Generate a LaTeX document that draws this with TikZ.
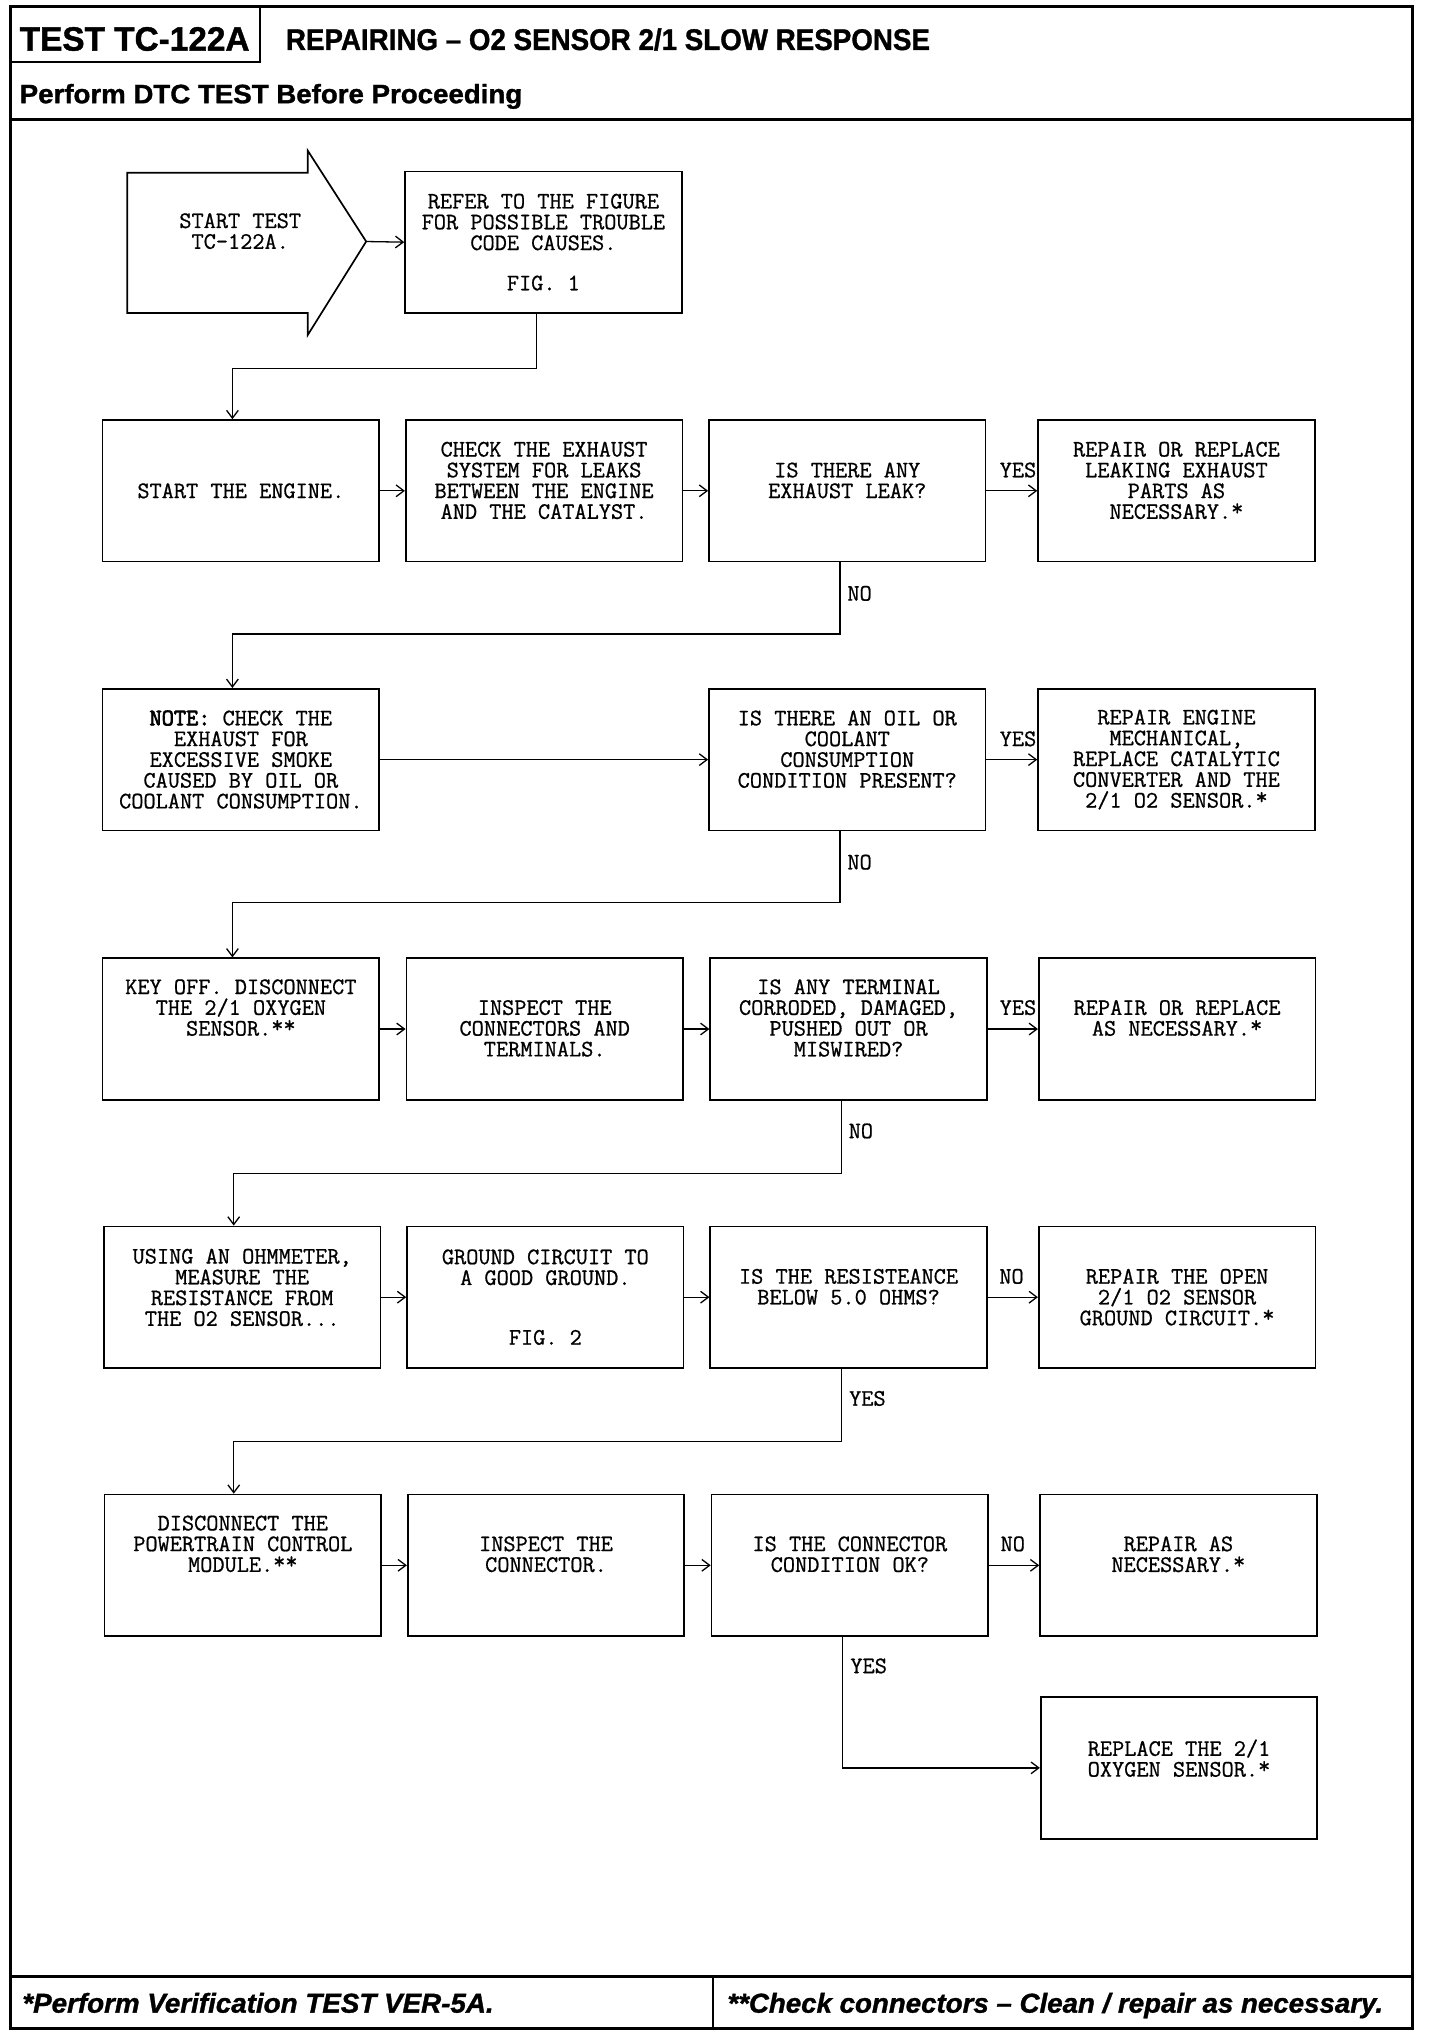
\documentclass[tikz,border=0pt]{standalone}
\usepackage{fontspec}
\newfontfamily\mono[FakeBold=0.8]{Latin Modern Mono}
\newfontfamily\monob[FakeBold=3]{Latin Modern Mono}
\newfontfamily\hdrb[FakeBold=1.2]{Liberation Sans Bold}
\newfontfamily\hdrbi[FakeBold=1.2]{Liberation Sans Bold Italic}
\newcommand{\rast}{\raisebox{2.5pt}[0pt][0pt]{*}}
\usetikzlibrary{arrows.meta}
\begin{document}
\begin{tikzpicture}[x=1pt,y=-1pt,
  box/.style={draw, line width=1.3pt, minimum width=213pt, minimum height=109pt, inner sep=0pt},
  txt/.style={font=\mono\fontsize{18.2}{16}\selectfont, align=center, inner sep=0pt},
  lbl/.style={font=\mono\fontsize{18.2}{16}\selectfont, inner sep=0pt},
  conn/.style={line width=1pt, -{Straight Barb[length=6pt,width=9pt,line width=1pt]}},
  hd/.style={inner sep=0pt, anchor=base west}
]
\useasboundingbox[fill=white] (0,0) rectangle (1109,1568);
% frame
\draw[line width=2pt] (8,5) rectangle (1088,1562);
\draw[line width=1.6pt] (200,5) -- (200,48) -- (8,48);
\draw[line width=2pt] (8,92) -- (1088,92);
\draw[line width=2pt] (8,1522) -- (1088,1522);
\draw[line width=2pt] (549,1522) -- (549,1562);
% header texts
\node[hd] (hTest) at (15,39) {\resizebox{177pt}{\height}{\hdrb\fontsize{26}{26}\selectfont TEST TC-122A}};
\node[hd] (hTitle) at (220,38.5) {\resizebox{496pt}{\height}{\hdrb\fontsize{23}{23}\selectfont REPAIRING – O2 SENSOR 2/1 SLOW RESPONSE}};
\node[hd] (hDTC) at (15,79.5) {\resizebox{387pt}{\height}{\hdrb\fontsize{20.5}{20.5}\selectfont Perform DTC TEST Before Proceeding}};
\node[hd] (fVer) at (17,1550) {\resizebox{363pt}{\height}{\hdrbi\fontsize{21}{21}\selectfont *Perform Verification TEST VER-5A.}};
\node[hd] (fChk) at (560,1550) {\resizebox{505pt}{\height}{\hdrbi\fontsize{21}{21}\selectfont **Check connectors – Clean / repair as necessary.}};

% start arrow
\draw[line width=1.3pt] (98,133) -- (237,133) -- (237,116) -- (282,186) -- (237,258) -- (237,241) -- (98,241) -- cycle;
\coordinate (tip) at (282,186);
\node[txt] (tStart) at (185,178) {START TEST\\TC-122A.};

% boxes
\node[box] (refer) at (418.5,186.5) {};
\node[box] (a1) at (185.5,378) {};
\node[box] (a2) at (419,378) {};
\node[box] (a3) at (652.5,378) {};
\node[box] (a4) at (906,378) {};
\node[box] (b1) at (185.5,585) {};
\node[box] (b3) at (652.5,585) {};
\node[box] (b4) at (906,585) {};
\node[box] (c1) at (185.5,792.5) {};
\node[box] (c2) at (419.5,792.5) {};
\node[box] (c3) at (653.5,792.5) {};
\node[box] (c4) at (906.5,792.5) {};
\node[box] (d1) at (186.5,999) {};
\node[box] (d2) at (420,999) {};
\node[box] (d3) at (653.5,999) {};
\node[box] (d4) at (906.5,999) {};
\node[box] (e1) at (187,1205.5) {};
\node[box] (e2) at (420.5,1205.5) {};
\node[box] (e3) at (654.5,1205.5) {};
\node[box] (e4) at (907.5,1205.5) {};
\node[box] (f) at (908,1361.5) {};

% texts
\node[txt] (tRefer) at (418.5,186.5) {REFER TO THE FIGURE\\FOR POSSIBLE TROUBLE\\CODE CAUSES.\\[15pt]FIG. 1};
\node[txt] (ta1) at (185.5,378) {START THE ENGINE.};
\node[txt] (ta2) at (419,370) {CHECK THE EXHAUST\\SYSTEM FOR LEAKS\\BETWEEN THE ENGINE\\AND THE CATALYST.};
\node[txt] (ta3) at (652.5,370) {IS THERE ANY\\EXHAUST LEAK?};
\node[txt] (ta4) at (906,370) {REPAIR OR REPLACE\\LEAKING EXHAUST\\PARTS AS\\NECESSARY.\rast};
\node[txt] (tb1) at (185.5,585) {{\monob NOTE:} CHECK THE\\EXHAUST FOR\\EXCESSIVE SMOKE\\CAUSED BY OIL OR\\COOLANT CONSUMPTION.};
\node[txt] (tb3) at (652.5,577) {IS THERE AN OIL OR\\COOLANT\\CONSUMPTION\\CONDITION PRESENT?};
\node[txt] (tb4) at (906,585) {REPAIR ENGINE\\MECHANICAL,\\REPLACE CATALYTIC\\CONVERTER AND THE\\2/1 O2 SENSOR.\rast};
\node[txt] (tc1) at (185.5,776) {KEY OFF. DISCONNECT\\THE 2/1 OXYGEN\\SENSOR.\rast\rast};
\node[txt] (tc2) at (419.5,792) {INSPECT THE\\CONNECTORS AND\\TERMINALS.};
\node[txt] (tc3) at (653.5,784) {IS ANY TERMINAL\\CORRODED, DAMAGED,\\PUSHED OUT OR\\MISWIRED?};
\node[txt] (tc4) at (906.5,784) {REPAIR OR REPLACE\\AS NECESSARY.\rast};
\node[txt] (td1) at (186.5,991.5) {USING AN OHMMETER,\\MEASURE THE\\RESISTANCE FROM\\THE O2 SENSOR...};
\node[txt] (td2) at (420,999) {GROUND CIRCUIT TO\\A GOOD GROUND.\\[30pt]FIG. 2};
\node[txt] (td3) at (653.5,991) {IS THE RESISTEANCE\\BELOW 5.0 OHMS?};
\node[txt] (td4) at (906.5,999) {REPAIR THE OPEN\\2/1 O2 SENSOR\\GROUND CIRCUIT.\rast};
\node[txt] (te1) at (187,1189) {DISCONNECT THE\\POWERTRAIN CONTROL\\MODULE.\rast\rast};
\node[txt] (te2) at (420.5,1197) {INSPECT THE\\CONNECTOR.};
\node[txt] (te3) at (654.5,1197) {IS THE CONNECTOR\\CONDITION OK?};
\node[txt] (te4) at (907.5,1197) {REPAIR AS\\NECESSARY.\rast};
\node[txt] (tf) at (908,1354) {REPLACE THE 2/1\\OXYGEN SENSOR.\rast};

% connectors
\draw[conn] (tip) -- (refer.west);
\draw[conn] ([xshift=-5.5pt]refer.south) -- ++(0,42) -| ([xshift=-6.5pt]a1.north);
\draw[conn] (a1.east) -- (a2.west);
\draw[conn] (a2.east) -- (a3.west);
\draw[conn] (a3.east) -- (a4.west);
\draw[conn] ([xshift=-5.5pt]a3.south) -- ++(0,55) -| ([xshift=-6.5pt]b1.north);
\draw[conn] (b1.east) -- (b3.west);
\draw[conn] (b3.east) -- (b4.west);
\draw[conn] ([xshift=-5.5pt]b3.south) -- ++(0,55) -| ([xshift=-6.5pt]c1.north);
\draw[conn] (c1.east) -- (c2.west);
\draw[conn] (c2.east) -- (c3.west);
\draw[conn] (c3.east) -- (c4.west);
\draw[conn] ([xshift=-5.5pt]c3.south) -- ++(0,56) -| ([xshift=-6.5pt]d1.north);
\draw[conn] (d1.east) -- (d2.west);
\draw[conn] (d2.east) -- (d3.west);
\draw[conn] (d3.east) -- (d4.west);
\draw[conn] ([xshift=-5.5pt]d3.south) -- ++(0,56) -| ([xshift=-7pt]e1.north);
\draw[conn] (e1.east) -- (e2.west);
\draw[conn] (e2.east) -- (e3.west);
\draw[conn] (e3.east) -- (e4.west);
\draw[conn] ([xshift=-5.5pt]e3.south) |- (f.west);

% labels
\node[lbl] (l1) at (784,362) {YES};
\node[lbl] (l2) at (662,457) {NO};
\node[lbl] (l3) at (784,569) {YES};
\node[lbl] (l4) at (662,664) {NO};
\node[lbl] (l5) at (784,776) {YES};
\node[lbl] (l6) at (663,871) {NO};
\node[lbl] (l7) at (779,983) {NO};
\node[lbl] (l8) at (668,1077) {YES};
\node[lbl] (l9) at (780,1189) {NO};
\node[lbl] (l10) at (669,1283) {YES};
\end{tikzpicture}
\end{document}
